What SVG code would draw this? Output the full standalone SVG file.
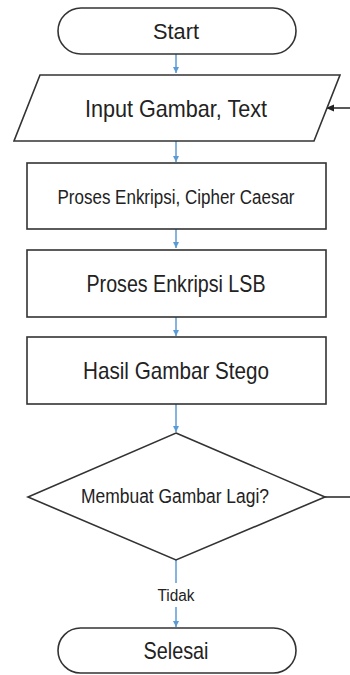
<svg xmlns="http://www.w3.org/2000/svg" width="350" height="675" viewBox="0 0 350 675">
<style>
.shape{fill:#fff;stroke:#333;stroke-width:1.6}
.t{font-family:"Liberation Sans","Open Sans",sans-serif;fill:#222;text-anchor:middle;dominant-baseline:central}
.c{stroke:#5b9bd5;stroke-width:1.5;fill:none}
.k{stroke:#222;stroke-width:1.5;fill:none}
</style>
<defs>
<marker id="ab" markerWidth="8" markerHeight="8" refX="6" refY="4" orient="auto" markerUnits="userSpaceOnUse">
<path d="M0,1 L6,4 L0,7 Z" fill="#5b9bd5"/>
</marker>
<marker id="ak" markerWidth="10" markerHeight="10" refX="8" refY="5" orient="auto" markerUnits="userSpaceOnUse">
<path d="M0,1.5 L8,5 L0,8.5 Z" fill="#222"/>
</marker>
</defs>
<rect width="350" height="675" fill="#fff"/>
<g id="connectors">
<line class="c" x1="176" y1="54" x2="176" y2="73" marker-end="url(#ab)"/>
<line class="c" x1="176" y1="141" x2="176" y2="162" marker-end="url(#ab)"/>
<line class="c" x1="176" y1="229" x2="176" y2="248" marker-end="url(#ab)"/>
<line class="c" x1="176" y1="317" x2="176" y2="336" marker-end="url(#ab)"/>
<line class="c" x1="176" y1="404" x2="176" y2="432" marker-end="url(#ab)"/>
<line class="c" x1="176" y1="560" x2="176" y2="583"/>
<line class="c" x1="176" y1="607" x2="176" y2="627" marker-end="url(#ab)"/>
<text class="t" x="176" y="595" font-size="16" textLength="37" lengthAdjust="spacingAndGlyphs">Tidak</text>
<line class="k" x1="325" y1="497" x2="350" y2="497"/>
<line class="k" x1="350" y1="108" x2="326" y2="108" marker-end="url(#ak)"/>
</g>
<g id="start">
<rect class="shape" x="58" y="8" width="238" height="46" rx="23"/>
<text class="t" x="176" y="31" font-size="22" textLength="46" lengthAdjust="spacingAndGlyphs">Start</text>
</g>
<g id="input">
<polygon class="shape" points="40,75 340,75 314,141 14,141"/>
<text class="t" x="176" y="108" font-size="24" textLength="182" lengthAdjust="spacingAndGlyphs">Input Gambar, Text</text>
</g>
<g id="caesar">
<rect class="shape" x="27" y="163" width="299" height="66"/>
<text class="t" x="176" y="197" font-size="20" textLength="237" lengthAdjust="spacingAndGlyphs">Proses Enkripsi, Cipher Caesar</text>
</g>
<g id="lsb">
<rect class="shape" x="27" y="250" width="299" height="67"/>
<text class="t" x="176" y="283" font-size="24" textLength="179" lengthAdjust="spacingAndGlyphs">Proses Enkripsi LSB</text>
</g>
<g id="stego">
<rect class="shape" x="27" y="337" width="299" height="67"/>
<text class="t" x="176" y="370" font-size="24" textLength="186" lengthAdjust="spacingAndGlyphs">Hasil Gambar Stego</text>
</g>
<g id="decision">
<polygon class="shape" points="176,433 325,497 176,560 28,497"/>
<text class="t" x="175" y="496" font-size="20" textLength="188" lengthAdjust="spacingAndGlyphs">Membuat Gambar Lagi?</text>
</g>
<g id="end">
<rect class="shape" x="58" y="628" width="238" height="45" rx="22.5"/>
<text class="t" x="176" y="650" font-size="24" textLength="65" lengthAdjust="spacingAndGlyphs">Selesai</text>
</g>
</svg>
